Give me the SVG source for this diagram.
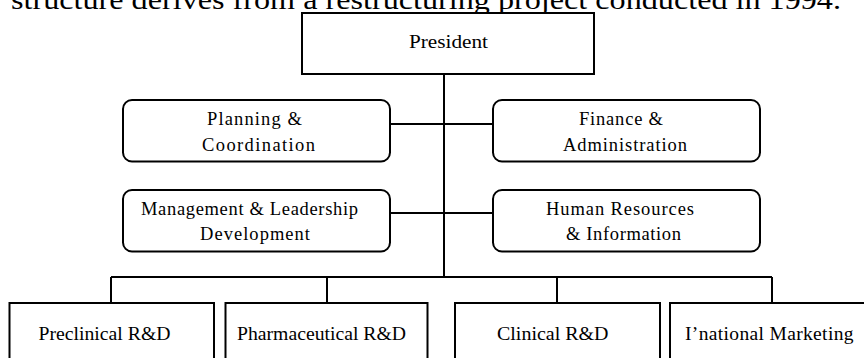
<svg xmlns="http://www.w3.org/2000/svg" width="864" height="358" viewBox="0 0 864 358">
<style>
text{font-family:"Liberation Serif","Times New Roman",serif;fill:#000;}
.box{fill:#fff;stroke:#000;stroke-width:2;}
.t{font-size:18.5px;}
.b{font-size:19.5px;}
.ln{stroke:#000;stroke-width:2;fill:none;}
</style>
<rect width="864" height="358" fill="#fff"/>
<text x="11" y="9" style="font-size:27px" textLength="830" lengthAdjust="spacingAndGlyphs">structure derives from a restructuring project conducted in 1994.</text>
<g id="connectors">
<path class="ln" d="M444 74V277M390 124H493M390 213H493M111 277H772M111 277V303M327 277V303M557 277V303M772 277V303"/>
</g>
<g id="president">
<rect class="box" x="302" y="13" width="292" height="61"/>
<text class="t" x="409" y="48" textLength="79" lengthAdjust="spacingAndGlyphs">President</text>
</g>
<g id="planning">
<rect class="box" x="123" y="100" width="267" height="61.5" rx="9"/>
<text class="t" x="207" y="125" textLength="95" lengthAdjust="spacing">Planning &amp;</text>
<text class="t" x="202" y="151" textLength="113" lengthAdjust="spacing">Coordination</text>
</g>
<g id="finance">
<rect class="box" x="493" y="100" width="267" height="61.5" rx="9"/>
<text class="t" x="579" y="125" textLength="84" lengthAdjust="spacing">Finance &amp;</text>
<text class="t" x="563" y="151" textLength="124" lengthAdjust="spacing">Administration</text>
</g>
<g id="management">
<rect class="box" x="123" y="190" width="267" height="61.5" rx="9"/>
<text class="t" x="141" y="215" textLength="217" lengthAdjust="spacing">Management &amp; Leadership</text>
<text class="t" x="200" y="240" textLength="110" lengthAdjust="spacing">Development</text>
</g>
<g id="hr">
<rect class="box" x="493" y="190" width="267" height="61.5" rx="9"/>
<text class="t" x="546" y="215" textLength="148" lengthAdjust="spacing">Human Resources</text>
<text class="t" x="566" y="240" textLength="115" lengthAdjust="spacing">&amp; Information</text>
</g>
<g id="preclinical">
<rect class="box" x="9.5" y="303" width="204.5" height="70"/>
<text class="b" x="38.5" y="340" textLength="132" lengthAdjust="spacingAndGlyphs">Preclinical R&amp;D</text>
</g>
<g id="pharmaceutical">
<rect class="box" x="225.5" y="303" width="202" height="70"/>
<text class="b" x="237" y="340" textLength="169" lengthAdjust="spacingAndGlyphs">Pharmaceutical R&amp;D</text>
</g>
<g id="clinical">
<rect class="box" x="455" y="303" width="205" height="70"/>
<text class="b" x="497" y="340" textLength="111.5" lengthAdjust="spacingAndGlyphs">Clinical R&amp;D</text>
</g>
<g id="marketing">
<rect class="box" x="670" y="303" width="205" height="70"/>
<text class="b" x="685" y="340" textLength="168.5" lengthAdjust="spacing">I’national Marketing</text>
</g>
</svg>
